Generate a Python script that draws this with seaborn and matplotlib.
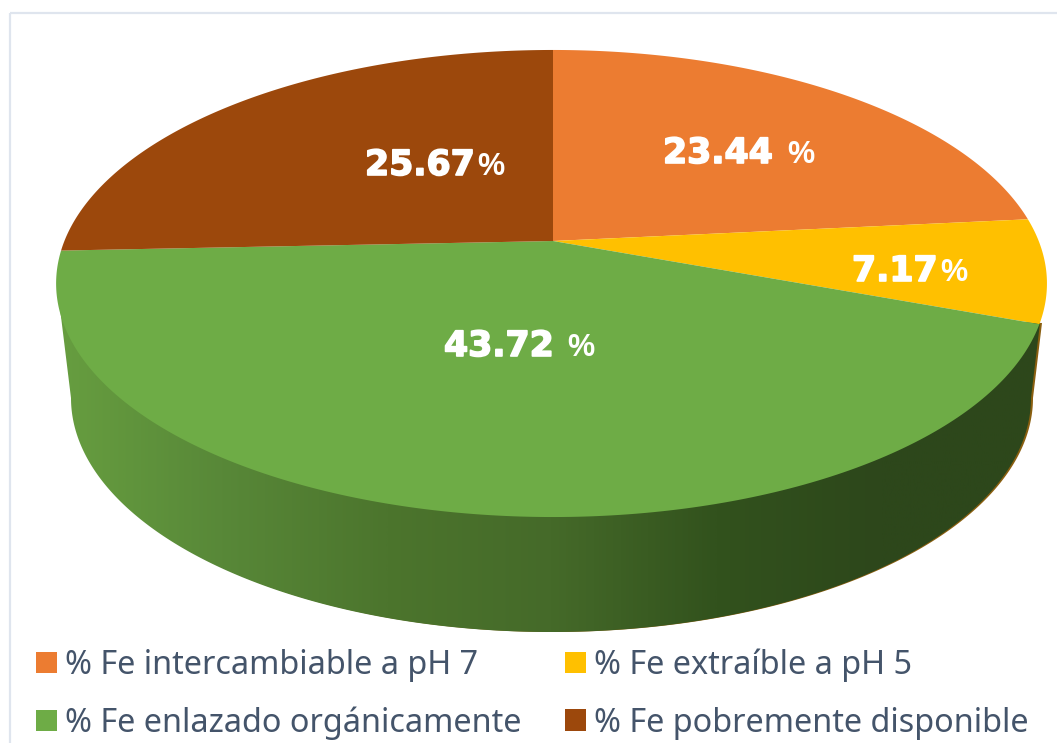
import numpy as np
import matplotlib
matplotlib.use("Agg")
import matplotlib.pyplot as plt
import matplotlib.patheffects as pe
from matplotlib.colors import LinearSegmentedColormap
from matplotlib.patches import Polygon, Rectangle
import seaborn as sns

# Fe fractions, clockwise from 12 o'clock
labels = ["% Fe intercambiable a pH 7", "% Fe extraíble a pH 5",
          "% Fe enlazado orgánicamente", "% Fe pobremente disponible"]
values = [23.44, 7.17, 43.72, 25.67]
colors = ["#EC7C31", "#FFC000", "#6EAC46", "#9C480C"]
pct_text = ["%", "%", "%", "%"]

# side wall shading, left to right
wall_colors = ["#679E40", "#588838", "#4C752D", "#456A29", "#32521D", "#2D471B", "#2D471B"]

sns.set_theme(style="white")
palette = sns.color_palette(colors)

fig = plt.figure(figsize=(10.57, 7.43), dpi=100)
ax = fig.add_axes([0, 0, 1, 1])


# tilted disc with perspective, unit circle -> pixels
def tilt(x, y):
    k = 0.182
    w = 1 + k * y
    a = np.where(x < 0, 488.6, 485.7)
    return 553 + a * x / w, 241 - 225.8 * y / w


wedges, _ = ax.pie(values, colors=palette, startangle=90, counterclock=False)
ax.set_aspect("auto")

# side wall: upper ellipse edge down to the lower ellipse
t = np.linspace(0, np.pi, 300)
low_x = 551 + 480 * np.cos(t)
low_y = 398 + 234 * np.sin(t)
wall_x = np.r_[1040, low_x, 57]
wall_y = np.r_[323, low_y, 284]

# thin sliver of the back of the yellow slice on the right edge
ax.add_patch(Polygon(np.c_[wall_x + 2, wall_y], fc="#8A5F10", ec="none", zorder=1))

grad = np.linspace(0, 1, 512)[None, :]
img = ax.imshow(grad, extent=[56, 1047, 640, 283], aspect="auto", zorder=2,
                cmap=LinearSegmentedColormap.from_list("wall", wall_colors))
wall = Polygon(np.c_[wall_x, wall_y], fc="none", ec="none", transform=ax.transData)
ax.add_patch(wall)
img.set_clip_path(wall)

# top face, using the angles from the pie
handles = []
for w in wedges:
    a = np.radians(np.linspace(w.theta1, w.theta2, 200))
    px, py = tilt(np.cos(a), np.sin(a))
    cx, cy = tilt(0, 0)
    poly = Polygon(np.c_[np.r_[cx, px], np.r_[cy, py]], fc=w.get_facecolor(), ec="none", zorder=3)
    ax.add_patch(poly)
    handles.append(poly)
    w.remove()

# data labels, number and smaller percent sign
num_pos = [(663, 163), (852, 281), (444, 356), (365, 175)]
pct_pos = [(787, 163), (940, 281), (567, 356), (477, 175)]
stroke = [pe.withStroke(linewidth=1.2, foreground="white")]
for v, s, p, q in zip(values, pct_text, num_pos, pct_pos):
    ax.text(p[0], p[1], f"{v:.2f}", color="white", fontsize=25, fontweight="bold",
            family="DejaVu Sans", va="baseline", ha="left", zorder=5, path_effects=stroke)
    ax.text(q[0], q[1], s, color="white", fontsize=22, fontweight="bold",
            family="Liberation Sans", va="baseline", ha="left", zorder=5)

# thin chart frame, only left and top show
ax.add_patch(Rectangle((9.5, 13), 1100, 800, fc="none", ec="#DFE5EE", lw=1.6, zorder=0))

ax.set_xlim(0, 1057)
ax.set_ylim(743, 0)
ax.axis("off")

order = [0, 2, 1, 3]
leg = ax.legend([handles[i] for i in order], [labels[i] for i in order], ncol=2,
                loc="lower left", bbox_to_anchor=(36 / 1057, 0.004), frameon=False,
                prop={"family": "Noto Sans", "size": 23.3}, labelcolor="#44546A",
                handlelength=0.65, handleheight=0.65, handletextpad=0.25,
                columnspacing=1.33, labelspacing=0.76, borderpad=0, borderaxespad=0)

fig.savefig("out.png", dpi=100)
